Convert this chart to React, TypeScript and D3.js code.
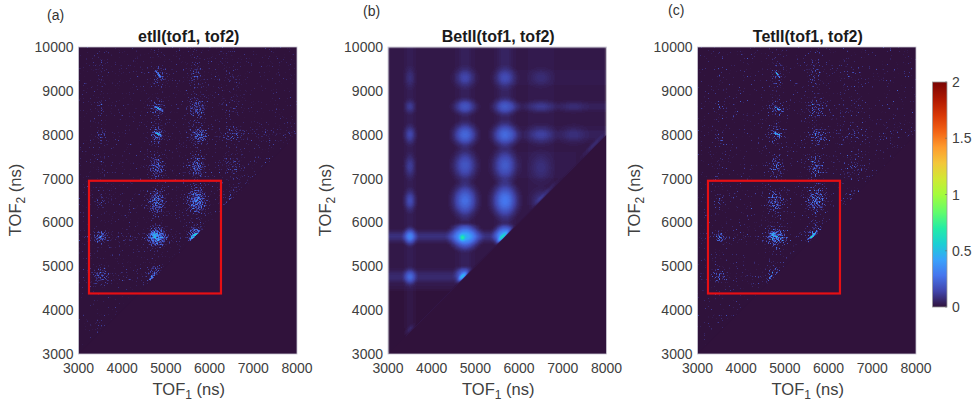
import React from "react";
import * as d3 from "d3";

// ---- values (ns, ns, intensity 0-2, half-width ns, half-height ns, optional top cut ns)
type Island = [number, number, number, number, number, number?];
type Streak = [number, number, number, number, number, number];
type Band = ["v" | "h", number, number, number, number, number];

const xTicks = [3000, 4000, 5000, 6000, 7000, 8000];
const yTicks = [3000, 4000, 5000, 6000, 7000, 8000, 9000, 10000];
const barTicks = [0, 0.5, 1, 1.5, 2];
const barLabels = ["0", "0.5", "1", "1.5", "2"];
const turboOffsets = [0, 0.07, 0.14, 0.21, 0.28, 0.35, 0.42, 0.5, 0.57, 0.64, 0.71, 0.78, 0.85, 0.92, 1];
const turboColors = ["#30123b", "#4145ab", "#4675ed", "#39a2fc", "#1bcfd4", "#24eca6", "#61fc6c", "#a4fc3b", "#d1e834", "#f3c63a", "#fe9b2d", "#f36315", "#d93806", "#b11901", "#7a0403"];

const sparseIslands: Island[] = [
  [3500, 4800, 0.24, 300, 330], [3515, 5675, 0.32, 220, 260], [3515, 6480, 0.18, 180, 280], [3500, 7300, 0.08, 160, 380],
  [3515, 7990, 0.17, 170, 340], [3500, 8650, 0.14, 150, 250], [3500, 9500, 0.05, 150, 420], [3450, 3750, 0.07, 330, 380],
  [4780, 4850, 0.26, 280, 320, 5020], [4800, 5675, 0.46, 360, 370], [4780, 6480, 0.32, 330, 480], [4800, 7270, 0.29, 290, 420],
  [4800, 8000, 0.27, 290, 350], [4800, 8600, 0.24, 280, 310], [4850, 9323, 0.18, 250, 370],
  [5700, 5720, 0.38, 330, 360], [5711, 6500, 0.38, 360, 480], [5711, 7270, 0.3, 320, 420], [5750, 7990, 0.3, 350, 330],
  [5720, 8600, 0.24, 350, 420], [5690, 9350, 0.15, 270, 440],
  [6530, 6520, 0.15, 300, 330], [6560, 7280, 0.14, 450, 450], [6530, 8000, 0.16, 450, 260], [6500, 8650, 0.06, 430, 330],
  [6500, 9300, 0.07, 430, 380], [7300, 8000, 0.06, 430, 280],
];
const sparseStreaks: Streak[] = [
  [4650, 4720, 0.35, 170, 45, -50], [5620, 5680, 0.45, 210, 60, -40], [4830, 9380, 0.5, 180, 35, 50], [4840, 8590, 0.42, 180, 40, 30],
  [4830, 8020, 0.5, 150, 45, 25], [4720, 5720, 0.22, 100, 120, 0], [6950, 7000, 0.08, 900, 160, -45], [7800, 8030, 0.12, 300, 90, -30],
];
const sparseBands: Band[] = [
  ["v", 3515, 7000, 10000, 0.02, 230], ["v", 4800, 4000, 10000, 0.04, 320], ["v", 5711, 5600, 10000, 0.05, 360], ["v", 6500, 6400, 10000, 0.025, 450],
  ["h", 5650, 3000, 5400, 0.09, 170], ["h", 4750, 3000, 4700, 0.05, 230], ["h", 8000, 5800, 8000, 0.025, 280], ["h", 6500, 3000, 6000, 0.015, 400],
];
const smoothIslands: Island[] = [
  [3503, 4760, 0.18, 190, 240], [3503, 5680, 0.24, 190, 260], [3503, 6500, 0.13, 180, 320], [3503, 7280, 0.09, 170, 340],
  [3503, 8000, 0.12, 180, 280], [3503, 8640, 0.09, 170, 200], [3503, 9300, 0.05, 160, 280],
  [4740, 4800, 0.2, 270, 260, 4970], [4762, 5680, 0.36, 450, 380, 5950], [4762, 6500, 0.22, 400, 480], [4762, 7300, 0.15, 380, 440],
  [4762, 8000, 0.2, 380, 340], [4762, 8640, 0.15, 360, 230], [4762, 9300, 0.1, 340, 290],
  [5677, 5700, 0.36, 340, 320, 5950], [5677, 6500, 0.24, 420, 500], [5677, 7300, 0.16, 400, 460], [5677, 8000, 0.2, 400, 340],
  [5677, 8640, 0.16, 380, 240], [5677, 9300, 0.11, 340, 300],
  [6500, 6500, 0.06, 300, 320], [6500, 7250, 0.05, 320, 420], [6500, 8000, 0.08, 400, 280], [6500, 8640, 0.06, 400, 180], [6500, 9300, 0.04, 320, 250],
  [7250, 8000, 0.04, 360, 260], [7250, 8640, 0.03, 360, 160],
];
const smoothStreaks: Streak[] = [
  [4700, 4760, 0.35, 170, 60, -45], [5620, 5660, 0.42, 220, 55, -45], [4700, 5650, 0.42, 70, 90, 0], [3500, 3560, 0.06, 180, 80, -45],
  [6600, 6650, 0.05, 500, 70, -45], [7700, 7750, 0.06, 450, 70, -45],
];
const smoothBands: Band[] = [
  ["v", 3503, 3600, 10000, 0.012, 130], ["v", 4762, 4600, 10000, 0.025, 240], ["v", 5677, 5600, 10000, 0.03, 260], ["v", 6500, 6400, 10000, 0.008, 300],
  ["h", 5680, 3000, 5600, 0.07, 170], ["h", 4760, 3000, 4800, 0.05, 200], ["h", 8000, 5800, 8000, 0.022, 190], ["h", 8640, 5800, 8000, 0.02, 130],
  ["h", 9300, 5800, 8000, 0.008, 170], ["h", 7300, 6000, 7300, 0.006, 300],
];
const sparseBase = 0.02;
const smoothBase = 0.012;
const baseFloor = 4450;

// ---- layout
const plotTop = 47, plotBottom = 354, plotWidth = 218.5;
const font = "'Liberation Sans', Arial, sans-serif";
const tickColor = "#404040";
const yScale = d3.scaleLinear().domain([3000, 10000]).range([plotBottom, plotTop]);
const barScale = d3.scaleLinear().domain([0, 2]).range([307, 82]);
const turbo = d3.scaleLinear<string>().domain(turboOffsets).range(turboColors).interpolate(d3.interpolateRgb);

const bellOffsets = d3.range(0, 1.0001, 0.1);
const bell = (t: number) => Math.exp(-(t * t) / (2 * 0.45 * 0.45)) * (1 - t * t * t * t);

const channel = (c: "r" | "g" | "b") =>
  d3.range(0, 1.0001, 1 / 128).map((t) => ((d3.rgb(turbo(t)) as any)[c] / 255).toFixed(4)).join(" ");

function Panel({ id, left, title, label, labelX, labelY, ylabelX, islands, streaks, bands, base, grain, box }: any) {
  const x = d3.scaleLinear().domain([3000, 8000]).range([left, left + plotWidth]);
  const I = (v: number) => v / 2;
  const triangle = [[3000, 3000], [8000, 8000], [8000, 10000], [3000, 10000]].map(([a, b]) => `${x(a)},${yScale(b)}`).join(" ");
  const below = [[3000, 3000], [8000, 8000], [8000, 3000]].map(([a, b]) => `${x(a)},${yScale(b)}`).join(" ");
  const blend: any = { mixBlendMode: "plus-lighter" };
  const capId = (t: number) => `${id}-cap-${t}`;
  const caps = Array.from(new Set(islands.filter((d: Island) => d[5]).map((d: Island) => d[5]))) as number[];
  return (
    <g>
      <defs>
        {caps.map((t) => (
          <clipPath id={capId(t)} key={t}>
            <rect x={left} y={yScale(t)} width={plotWidth} height={plotBottom - yScale(t)} />
          </clipPath>
        ))}
        <clipPath id={`${id}-plot`}><rect x={left} y={plotTop} width={plotWidth} height={plotBottom - plotTop} /></clipPath>
        <clipPath id={`${id}-tri`}><polygon points={triangle} /></clipPath>
        {/* The grain is a decorative texture standing in for the counting noise; it is not read from the picture. */}
        <filter id={`${id}-map`} filterUnits="userSpaceOnUse" x={left} y={plotTop} width={plotWidth} height={plotBottom - plotTop} colorInterpolationFilters="sRGB">
          {grain ? (
            <>
              <feTurbulence type="fractalNoise" baseFrequency={0.72} numOctaves={1} seed={7} result="n0" />
              <feColorMatrix in="n0" type="matrix" values="1 0 0 0 0 1 0 0 0 0 1 0 0 0 0 0 0 0 0 1" result="n1" />
              <feComposite in="SourceGraphic" in2="n1" operator="arithmetic" k1={0} k2={grain.gain} k3={grain.noise} k4={grain.cut} result="g0" />
              <feColorMatrix in="g0" type="matrix" values="1 0 0 0 0 0 1 0 0 0 0 0 1 0 0 0 0 0 0 1" result="g1" />
              <feGaussianBlur in="g1" stdDeviation={grain.blur} result="g2" />
            </>
          ) : (
            <feGaussianBlur in="SourceGraphic" stdDeviation={1.2} result="g2" />
          )}
          <feComponentTransfer in="g2">
            <feFuncR type="table" tableValues={channel("r")} />
            <feFuncG type="table" tableValues={channel("g")} />
            <feFuncB type="table" tableValues={channel("b")} />
          </feComponentTransfer>
        </filter>
      </defs>
      <g clipPath={`url(#${id}-plot)`}>
        <g filter={`url(#${id}-map)`}>
          <rect x={left} y={plotTop} width={plotWidth} height={plotBottom - plotTop} fill="#000" />
          <g clipPath={`url(#${id}-tri)`}>
            <rect x={left} y={plotTop} width={plotWidth} height={yScale(baseFloor) - plotTop} fill="#fff" opacity={I(base)} />
            {bands.map((d: Band, i: number) => {
              const [o, c, a, b, v, w] = d;
              return o === "v" ? (
                <rect key={`b${i}`} x={x(c - w)} y={yScale(b)} width={x(c + w) - x(c - w)} height={yScale(a) - yScale(b)} fill="url(#bandAcross)" opacity={I(v)} style={blend} />
              ) : (
                <rect key={`b${i}`} x={x(a)} y={yScale(c + w)} width={x(b) - x(a)} height={yScale(c - w) - yScale(c + w)} fill="url(#bandDown)" opacity={I(v)} style={blend} />
              );
            })}
            {islands.map((d: Island, i: number) => (
              <ellipse key={`i${i}`} cx={x(d[0])} cy={yScale(d[1])} rx={x(d[0] + d[3]) - x(d[0])} ry={yScale(d[1]) - yScale(d[1] + d[4])} fill="url(#blob)" opacity={I(d[2])} style={blend} clipPath={d[5] ? `url(#${capId(d[5])})` : undefined} />
            ))}
            {streaks.map((d: Streak, i: number) => (
              <ellipse key={`s${i}`} cx={x(d[0])} cy={yScale(d[1])} rx={x(d[0] + d[3]) - x(d[0])} ry={yScale(d[1]) - yScale(d[1] + d[4])} fill="url(#blob)" opacity={I(d[2])} style={blend} transform={`rotate(${d[5]} ${x(d[0])} ${yScale(d[1])})`} />
            ))}
          </g>
        </g>
        <polygon points={below} fill={turboColors[0]} />
        <line x1={x(3400)} y1={yScale(3400)} x2={x(8000)} y2={yScale(8000)} stroke="#3f2f7a" strokeOpacity={grain ? 0 : 0.3} strokeWidth={0.8} />
      </g>
      <rect x={left} y={plotTop} width={plotWidth} height={plotBottom - plotTop} fill="none" stroke="#c9c6d2" strokeWidth={0.8} />
      {box && (
        <rect x={x(box[0])} y={yScale(box[3])} width={x(box[1]) - x(box[0])} height={yScale(box[2]) - yScale(box[3])} fill="none" stroke="#e60f14" strokeWidth={2.2} />
      )}
      {xTicks.map((t) => (
        <text key={t} x={x(t)} y={373} textAnchor="middle" fontSize={14} fill={tickColor}>{t}</text>
      ))}
      {yTicks.map((t) => (
        <text key={t} x={left - 5} y={yScale(t) + 5} textAnchor="end" fontSize={14} fill={tickColor}>{t}</text>
      ))}
      <text x={left + plotWidth / 2 + 1} y={41.5} textAnchor="middle" fontSize={16} fontWeight="bold" fill="#1a1a1a">{title}</text>
      <text x={left + plotWidth / 2 + 1} y={394.5} textAnchor="middle" fontSize={16.5} fill={tickColor}>
        TOF<tspan dy={4} fontSize={12}>1</tspan><tspan dy={-4}> (ns)</tspan>
      </text>
      <text transform={`translate(${ylabelX} 200) rotate(-90)`} textAnchor="middle" fontSize={16.5} fill={tickColor}>
        TOF<tspan dy={4} fontSize={12}>2</tspan><tspan dy={-4}> (ns)</tspan>
      </text>
      <text x={labelX} y={labelY} fontSize={14} fill="#333">{label}</text>
    </g>
  );
}

const redBox = [3240, 6260, 4380, 6950];

export default function App() {
  const stops = bellOffsets.map((t) => ({ t, o: bell(t) }));
  const across = d3.range(-1, 1.0001, 0.1).map((t) => ({ p: (t + 1) / 2, o: bell(Math.abs(t)) }));
  return (
    <svg width={978} height={404} viewBox="0 0 978 404" style={{ position: "absolute", left: 0, top: 0, background: "#fff" }} fontFamily={font}>
      <defs>
        <radialGradient id="blob">
          {stops.map((s) => <stop key={s.t} offset={s.t} stopColor="#fff" stopOpacity={s.o} />)}
        </radialGradient>
        <linearGradient id="bandAcross" x1="0" x2="1" y1="0" y2="0">
          {across.map((s) => <stop key={s.p} offset={s.p} stopColor="#fff" stopOpacity={s.o} />)}
        </linearGradient>
        <linearGradient id="bandDown" x1="0" x2="0" y1="0" y2="1">
          {across.map((s) => <stop key={s.p} offset={s.p} stopColor="#fff" stopOpacity={s.o} />)}
        </linearGradient>
        <linearGradient id="barFill" x1="0" x2="0" y1="1" y2="0">
          {turboOffsets.map((o, i) => <stop key={o} offset={o} stopColor={turboColors[i]} />)}
        </linearGradient>
      </defs>
      <Panel id="a" left={78.5} title="etII(tof1, tof2)" label="(a)" labelX={47} labelY={20} ylabelX={21} islands={sparseIslands} streaks={sparseStreaks} bands={sparseBands} base={sparseBase} grain={{ gain: 0.85, noise: 0.55, cut: -0.38, blur: 0.6 }} box={redBox} />
      <Panel id="b" left={388} title="BetII(tof1, tof2)" label="(b)" labelX={363} labelY={16} ylabelX={331} islands={smoothIslands} streaks={smoothStreaks} bands={smoothBands} base={smoothBase} />
      <Panel id="c" left={697.5} title="TetII(tof1, tof2)" label="(c)" labelX={668} labelY={15} ylabelX={640} islands={sparseIslands} streaks={sparseStreaks} bands={sparseBands} base={sparseBase} grain={{ gain: 0.85, noise: 0.75, cut: -0.52, blur: 0.35 }} box={redBox} />
      <rect x={932.5} y={82} width={14.5} height={225} fill="url(#barFill)" stroke="#9a9a9a" strokeWidth={0.8} />
      {barTicks.map((t, i) => (
        <g key={t}>
          <line x1={945} x2={947} y1={barScale(t)} y2={barScale(t)} stroke="#666" strokeWidth={0.6} />
          <text x={952} y={barScale(t) + 5} fontSize={14} fill={tickColor}>{barLabels[i]}</text>
        </g>
      ))}
    </svg>
  );
}
